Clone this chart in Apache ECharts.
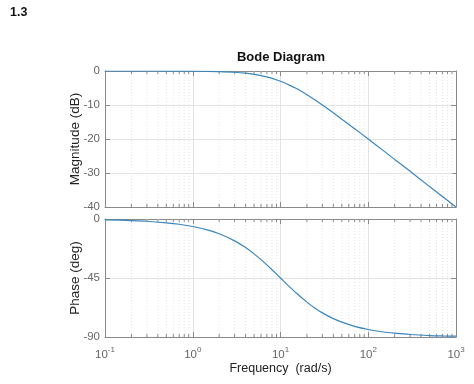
<!DOCTYPE html>
<html><head><meta charset="utf-8">
<script src="https://cdn.jsdelivr.net/npm/echarts@6/dist/echarts.min.js"></script>
<style>html,body{margin:0;padding:0;background:#fff}#c{width:474px;height:384px}</style>
</head><body><div id="c"></div>
<script>
// Frequencies (rad/s)
var freqs = [0.1,0.2,0.3,0.5,0.7,1,1.5,2,3,4,5,6,7,8,10,12,15,20,25,30,40,50,70,100,150,200,300,500,700,1000];
// Magnitude (dB)
var magnitude = [0,0,0,-0.01,-0.02,-0.04,-0.1,-0.17,-0.37,-0.64,-0.97,-1.34,-1.73,-2.15,-3.0,-3.9,-5.1,-7.0,-8.6,-10.0,-12.3,-14.2,-17.0,-20.0,-23.5,-26.0,-29.5,-34.0,-36.9,-40.0];
// Phase (deg)
var phase = [-0.6,-1.2,-1.7,-2.9,-4.0,-5.7,-8.5,-11.3,-16.7,-21.8,-26.6,-31.0,-35.0,-38.7,-45.0,-50.2,-56.3,-63.4,-68.2,-71.6,-76.0,-78.7,-81.9,-84.3,-86.2,-87.1,-88.1,-88.9,-89.2,-89.4];
// Minor log grid positions
var minorFreqs = [0.2,0.3,0.4,0.5,0.6,0.7,0.8,0.9,2,3,4,5,6,7,8,9,20,30,40,50,60,70,80,90,200,300,400,500,600,700,800,900];
var magTicks = {min:-40, max:0, interval:10};
var phaseTicks = {min:-90, max:0, interval:45};

var lineColor = '#3a86bd';
var boxColor = '#8a8a8a';
var labelColor = '#666';
var font = 'Liberation Sans, Arial, sans-serif';

function pairs(ys){ return freqs.map(function(f,i){return [f, ys[i]];}); }

function xAxisDef(gi, pos, showLabels, name){
  return {
    type:'log', logBase:10, min:0.1, max:1000, gridIndex:gi, position:pos,
    axisLine:{show:true, onZero:false, lineStyle:{color:boxColor, width:1}},
    axisTick:{show:true, inside:true, length:5, lineStyle:{color:boxColor}},
    axisLabel:{show:showLabels, color:labelColor, fontFamily:font, fontSize:11.5, margin:9,
      formatter:function(v){ var e=Math.round(Math.log10(v)); return '10{s|'+e+'}'; },
      rich:{s:{fontSize:8, verticalAlign:'top', padding:[0,0,9,0], color:labelColor, fontFamily:font}}},
    splitLine:{show: pos==='bottom', lineStyle:{color:'#e4e4e4', width:1}},
    name: name || '', nameLocation:'middle', nameGap:25,
    nameTextStyle:{color:'#222', fontFamily:font, fontSize:12.5}
  };
}
function yAxisDef(gi, pos, t, name){
  return {
    type:'value', gridIndex:gi, position:pos, min:t.min, max:t.max, interval:t.interval,
    axisLine:{show:true, lineStyle:{color:boxColor, width:1}},
    axisTick:{show:true, inside:true, length:5, lineStyle:{color:boxColor}},
    axisLabel:{show: pos==='left', color:labelColor, fontFamily:font, fontSize:11.5, margin:5},
    splitLine:{show: pos==='left', lineStyle:{color:'#e4e4e4', width:1}},
    name: name || '', nameLocation:'middle', nameGap:23, nameRotate:90, nameMoveOverlap:false,
    nameTextStyle:{color:'#222', fontFamily:font, fontSize:13.5}
  };
}

function minorSeries(xi, yi, t){
  return {
    type:'custom', xAxisIndex:xi, yAxisIndex:yi, silent:true, z:1,
    data: minorFreqs.map(function(f){return [f, t.min];}),
    renderItem:function(params, api){
      var f = api.value(0);
      var top = api.coord([f, t.max]);
      var bot = api.coord([f, t.min]);
      return {type:'group', children:[
        {type:'line', shape:{x1:top[0], y1:top[1], x2:bot[0], y2:bot[1]},
          style:{stroke:'#e4e4e4', lineWidth:1, lineDash:[1,2]}},
        {type:'line', shape:{x1:top[0], y1:top[1], x2:top[0], y2:top[1]+3},
          style:{stroke:boxColor, lineWidth:1}},
        {type:'line', shape:{x1:bot[0], y1:bot[1], x2:bot[0], y2:bot[1]-3},
          style:{stroke:boxColor, lineWidth:1}}
      ]};
    }
  };
}

var chart = echarts.init(document.getElementById('c'), null, {renderer:'canvas'});
chart.setOption({
  animation:false,
  graphic:[
    {type:'text', left:10, top:6, style:{text:'1.3', fontSize:12.5, fontWeight:'bold', fill:'#111', fontFamily:font}},
    {type:'text', x:281, y:57, style:{text:'Bode Diagram', fontSize:13, fontWeight:'bold', fill:'#111', fontFamily:font, textAlign:'center', textVerticalAlign:'middle'}}
  ],
  grid:[
    {left:105, top:71, width:351, height:136},
    {left:105, top:219, width:351, height:118}
  ],
  xAxis:[
    xAxisDef(0,'bottom',false),
    xAxisDef(0,'top',false),
    xAxisDef(1,'bottom',true,'Frequency  (rad/s)'),
    xAxisDef(1,'top',false)
  ],
  yAxis:[
    yAxisDef(0,'left',magTicks,'Magnitude (dB)'),
    yAxisDef(0,'right',magTicks),
    yAxisDef(1,'left',phaseTicks,'Phase (deg)'),
    yAxisDef(1,'right',phaseTicks)
  ],
  series:[
    minorSeries(0,0,magTicks),
    minorSeries(2,2,phaseTicks),
    {type:'line', xAxisIndex:0, yAxisIndex:0, data:pairs(magnitude), smooth:0.3, showSymbol:false, symbol:'none',
      lineStyle:{color:lineColor, width:1.2}, z:5},
    {type:'line', xAxisIndex:2, yAxisIndex:2, data:pairs(phase), smooth:0.3, showSymbol:false, symbol:'none',
      lineStyle:{color:lineColor, width:1.2}, z:5}
  ]
});
</script></body></html>
